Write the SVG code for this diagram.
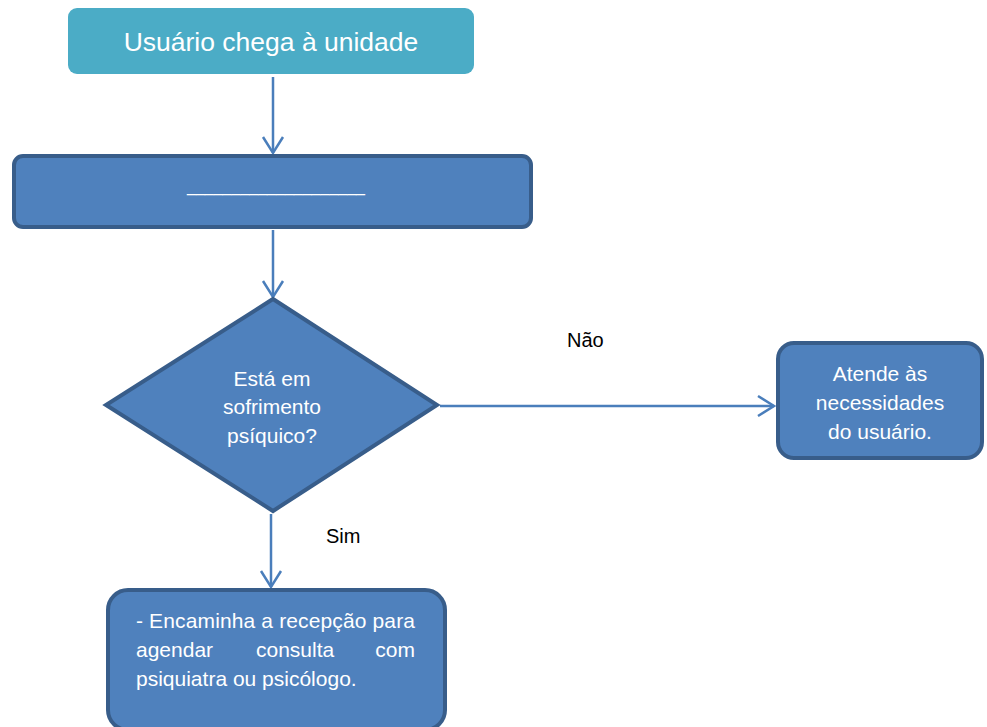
<svg xmlns="http://www.w3.org/2000/svg" width="987" height="727" viewBox="0 0 987 727">
<style>
.t{font-family:"Liberation Sans",Arial,sans-serif;fill:#fff;font-size:21px}
.l{font-family:"Liberation Sans",Arial,sans-serif;fill:#000;font-size:20px}
.n{fill:#4f81bd;stroke:#385d8a;stroke-width:4}
.c{fill:none;stroke:#4a7ebb;stroke-width:2.5}
</style>
<defs>
<marker id="a" markerUnits="userSpaceOnUse" markerWidth="24" markerHeight="24" viewBox="-20 -12 24 24" refX="0" refY="0" orient="auto">
<path d="M-16,-10 L0,0 L-16,10" fill="none" stroke="#4a7ebb" stroke-width="2.5"/>
</marker>
</defs>
<rect width="987" height="727" fill="#fff"/>
<g id="connectors">
<line class="c" x1="273" y1="77" x2="273" y2="153" marker-end="url(#a)"/>
<line class="c" x1="273" y1="230" x2="273" y2="297" marker-end="url(#a)"/>
<line class="c" x1="440" y1="406" x2="774" y2="406" marker-end="url(#a)"/>
<line class="c" x1="271" y1="514" x2="271" y2="587" marker-end="url(#a)"/>
<text class="l" x="567" y="347">Não</text>
<text class="l" x="326" y="543">Sim</text>
</g>
<g id="start">
<rect x="68" y="8" width="406" height="66" rx="9" fill="#4bacc6"/>
<text class="t" x="271" y="51" text-anchor="middle" style="font-size:26.5px">Usuário chega à unidade</text>
</g>
<g id="blank">
<rect class="n" x="14" y="156" width="517" height="71" rx="9"/>
<text class="t" x="276" y="192" text-anchor="middle" style="font-size:16px">____________________</text>
</g>
<g id="decision">
<polygon class="n" points="273,299 437,405 273,511 106,405"/>
<text class="t" x="272" y="386" text-anchor="middle">Está em</text>
<text class="t" x="272" y="414" text-anchor="middle">sofrimento</text>
<text class="t" x="272" y="443" text-anchor="middle">psíquico?</text>
</g>
<g id="nao">
<rect class="n" x="778" y="343" width="204" height="115" rx="16"/>
<text class="t" x="880" y="381" text-anchor="middle">Atende às</text>
<text class="t" x="880" y="410" text-anchor="middle">necessidades</text>
<text class="t" x="880" y="439" text-anchor="middle">do usuário.</text>
</g>
<g id="sim">
<rect class="n" x="108" y="590" width="337" height="140" rx="20"/>
<text class="t" x="136" y="628" textLength="279" lengthAdjust="spacing">- Encaminha a recepção para</text>
<text class="t" x="136" y="657">agendar</text>
<text class="t" x="256" y="657">consulta</text>
<text class="t" x="415" y="657" text-anchor="end">com</text>
<text class="t" x="136" y="686">psiquiatra ou psicólogo.</text>
</g>
</svg>
